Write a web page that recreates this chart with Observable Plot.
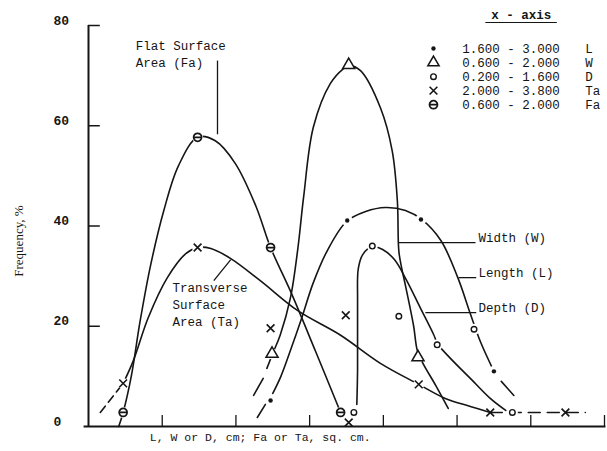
<!DOCTYPE html>
<html>
<head>
<meta charset="utf-8">
<script src="https://cdn.jsdelivr.net/npm/d3@7"></script>
<script src="https://cdn.jsdelivr.net/npm/@observablehq/plot@0.6"></script>
<style>
  html, body { margin: 0; padding: 0; background: #fff; }
</style>
</head>
<body>
<div id="chart"></div>
<script>
// ---- axes ----
const xTicks = [1, 2, 3, 4, 5, 6, 7];
const yTicks = [0, 20, 40, 60, 80];
const xLabel = "L, W or D, cm; Fa or Ta, sq. cm.";
const yLabel = "Frequency, %";

// ---- plotted points (x in axis units, frequency %) ----
const lPoints  = [[2.47, 5.2], [3.51, 41.1], [4.51, 41.3], [5.50, 11.0]];
const wPoints  = [[2.49, 14.5], [3.53, 72.1], [4.47, 13.8]];
const dPoints  = [[3.60, 2.8], [3.85, 36.0], [4.21, 22.0], [4.73, 16.3], [5.23, 19.4], [5.75, 2.8]];
const taPoints = [[0.47, 8.6], [1.48, 35.7], [2.47, 19.6], [3.49, 22.2], [4.48, 8.4], [5.45, 2.8], [6.47, 2.8], [3.53, 0.8]];
const faPoints = [[0.47, 2.8], [1.48, 57.7], [2.47, 35.7], [3.42, 2.8]];

// ---- hand-drawn smooth curves ----
const faCurve = [[0.41, 0], [0.47, 2.8], [0.58, 10], [0.70, 21], [0.84, 32], [1.02, 43], [1.22, 52],
  [1.48, 57.7], [1.72, 57], [1.99, 52.5], [2.27, 44], [2.47, 35.7], [2.74, 27], [3.08, 15], [3.42, 2.8]];
const taCurve = [[0.47, 8.6], [0.61, 13.2], [0.81, 21.7], [1.07, 29.7], [1.32, 34.5], [1.48, 35.7],
  [1.66, 35.5], [1.93, 33.5], [2.33, 29.1], [2.84, 23.1], [3.42, 18.2], [3.96, 12.6], [4.48, 8.4],
  [4.84, 5.6], [5.18, 4.0], [5.45, 2.8]];
const taDashLow = [[0.16, 2.8], [0.47, 8.6]];
const taTail = [[5.45, 2.8], [6.74, 2.8]];
const wCurve = [[2.42, 11.6], [2.50, 14.6], [2.60, 18.2], [2.74, 25.7], [2.84, 35.5], [2.92, 46],
  [3.05, 59.7], [3.28, 68.4], [3.46, 71.4], [3.53, 72], [3.69, 71], [3.96, 63.6], [4.12, 55],
  [4.19, 45], [4.21, 35], [4.25, 31.5], [4.30, 28.1], [4.41, 20.1], [4.46, 15.2], [4.53, 12.8],
  [4.71, 8.2], [4.88, 3.6]];
const wDashLow = [[2.24, 6.2], [2.37, 9.6]];
const lCurve = [[2.50, 6.6], [2.61, 10.0], [2.74, 15.2], [2.88, 21.1], [3.05, 28.7], [3.24, 35.1],
  [3.50, 40.9], [3.76, 42.9], [4.03, 43.7], [4.30, 43.1], [4.52, 41.3], [4.78, 37.1], [5.01, 29.7],
  [5.18, 22.5], [5.32, 16.8], [5.50, 11.0]];
const lDashLow = [[2.29, 1.8], [2.40, 4.4]];
const lDashHigh = [[5.60, 9.0], [5.77, 6.2]];
const dCurve = [[3.64, 4.4], [3.65, 11.2], [3.65, 25.1], [3.66, 31.5], [3.72, 34.3], [3.85, 35.9],
  [3.99, 35.3], [4.15, 33.3], [4.31, 29.3], [4.50, 23.7], [4.68, 18.4], [4.74, 16.4], [4.91, 13.6],
  [5.18, 9.6], [5.45, 5.6], [5.66, 3.2]];

// ---- annotations ----
const notes = [
  {text: "Flat Surface", x: 0.64, y: 76.0},
  {text: "Area (Fa)",    x: 0.64, y: 72.6},
  {text: "Transverse",   x: 1.14, y: 27.7},
  {text: "Surface",      x: 1.14, y: 24.3},
  {text: "Area (Ta)",    x: 1.14, y: 20.9},
  {text: "Width (W)",    x: 5.29, y: 37.7},
  {text: "Length (L)",   x: 5.29, y: 30.7},
  {text: "Depth (D)",    x: 5.29, y: 23.7}
];
const leaders = [
  {x1: 1.75, y1: 73.0, x2: 1.75, y2: 58.3},
  {x1: 1.70, y1: 29.1, x2: 1.93, y2: 33.3},
  {x1: 4.21, y1: 36.7, x2: 5.25, y2: 36.7},
  {x1: 5.02, y1: 29.7, x2: 5.26, y2: 29.7},
  {x1: 4.57, y1: 22.7, x2: 5.26, y2: 22.7}
];

// ---- legend ----
const legendTitle = "x - axis";
const legendKeys = ["L", "W", "D", "Ta", "Fa"];
const legendRanges = ["1.600 - 3.000", "0.600 - 2.000", "0.200 - 1.600", "2.000 - 3.800", "0.600 - 2.000"];
const legendRowY = [75.4, 72.6, 69.8, 67.0, 64.2];
const legendCol = {marker: 4.68, range: 5.07, key: 6.74, title: 5.87, ul1: 5.39, ul2: 6.36, titleY: 82.0, ulY: 80.6};

// ---- styling ----
const ink = "#151515";
const mono = "Liberation Mono, DejaVu Sans Mono, monospace";
const thetaSymbol = {
  draw(ctx, size) {
    const r = Math.sqrt(size / Math.PI);
    ctx.moveTo(r, 0);
    ctx.arc(0, 0, r, 0, 2 * Math.PI);
    ctx.moveTo(-r, 0);
    ctx.lineTo(r, 0);
  }
};
const X = d => d[0], Y = d => d[1];
const lineOpts = {x: X, y: Y, stroke: ink, strokeWidth: 1.6, curve: "catmull-rom"};
const dashOpts = {x: X, y: Y, stroke: ink, strokeWidth: 1.6};
const allPts = [...lPoints, ...wPoints, ...dPoints, ...faPoints, ...taPoints.slice(0, 2), taPoints[4]];

const marks = [
  // axes
  Plot.ruleX([0], {y1: 0, y2: 80, stroke: ink, strokeWidth: 2}),
  Plot.ruleY([0], {x1: -0.06, x2: 7.02, stroke: ink, strokeWidth: 2}),
  Plot.ruleY(yTicks.slice(1), {x1: 0, x2: 0.16, stroke: ink, strokeWidth: 1.5}),
  Plot.ruleX(xTicks, {y1: 0, y2: 2.2, stroke: ink, strokeWidth: 1.3}),
  Plot.axisY(yTicks, {tickSize: 0, tickPadding: 0, textAnchor: "start", dx: -35, dy: -5,
    fontSize: 13, fontWeight: 600, fontFamily: mono, fill: ink, tickFormat: d => String(d)}),
  Plot.text([xLabel], {x: 2.33, y: -2.1, text: d => d, fontSize: 11.5, fontFamily: mono, fill: ink}),
  Plot.text([yLabel], {x: -0.95, y: 37, text: d => d, rotate: -90, fontSize: 13,
    fontFamily: "Liberation Serif, DejaVu Serif, serif", fill: ink, letterSpacing: "2.6px"}),

  // curves
  Plot.line(faCurve, lineOpts),
  Plot.line(taCurve, lineOpts),
  Plot.line(wCurve, lineOpts),
  Plot.line(lCurve, lineOpts),
  Plot.line(dCurve, lineOpts),
  Plot.line(taDashLow, {...dashOpts, strokeDasharray: "8,5"}),
  Plot.line(taTail, {...dashOpts, strokeDasharray: "12,7"}),
  Plot.line(wDashLow, dashOpts),
  Plot.line(lDashLow, dashOpts),
  Plot.line(lDashHigh, dashOpts),

  // white halos make the gaps at the markers
  Plot.dot(allPts, {x: X, y: Y, r: 5.5, fill: "white", stroke: null}),

  // markers
  Plot.dot(lPoints, {x: X, y: Y, r: 2.2, fill: ink, stroke: null}),
  Plot.dot(wPoints, {x: X, y: Y, r: 4.5, symbol: "triangle", fill: "white", stroke: ink, strokeWidth: 1.5}),
  Plot.dot(dPoints, {x: X, y: Y, r: 2.8, fill: "white", stroke: ink, strokeWidth: 1.4}),
  Plot.dot(taPoints, {x: X, y: Y, r: 3.6, symbol: "times", stroke: ink, strokeWidth: 1.6}),
  Plot.dot(faPoints, {x: X, y: Y, r: 4, symbol: thetaSymbol, fill: "white", stroke: ink, strokeWidth: 1.7}),

  // annotations
  Plot.link(leaders, {x1: "x1", y1: "y1", x2: "x2", y2: "y2", stroke: ink, strokeWidth: 1.3}),
  Plot.text(notes, {x: "x", y: "y", text: "text", textAnchor: "start", fontSize: 12.5, fontFamily: mono, fill: ink}),

  // legend
  Plot.text([legendTitle], {x: legendCol.title, y: legendCol.titleY, text: d => d, fontSize: 12.5, fontFamily: mono, fill: ink, fontWeight: 600}),
  Plot.ruleY([legendCol.ulY], {x1: legendCol.ul1, x2: legendCol.ul2, stroke: ink, strokeWidth: 1.2}),
  Plot.dot([0], {x: legendCol.marker, y: legendRowY[0], r: 2.2, fill: ink, stroke: null}),
  Plot.dot([0], {x: legendCol.marker, y: legendRowY[1], r: 4.2, symbol: "triangle", fill: "white", stroke: ink, strokeWidth: 1.5}),
  Plot.dot([0], {x: legendCol.marker, y: legendRowY[2], r: 2.8, fill: "white", stroke: ink, strokeWidth: 1.4}),
  Plot.dot([0], {x: legendCol.marker, y: legendRowY[3], r: 3.6, symbol: "times", stroke: ink, strokeWidth: 1.6}),
  Plot.dot([0], {x: legendCol.marker, y: legendRowY[4], r: 4, symbol: thetaSymbol, fill: "white", stroke: ink, strokeWidth: 1.7}),
  Plot.text(legendRanges, {x: legendCol.range, y: (d, i) => legendRowY[i], text: d => d, textAnchor: "start", fontSize: 12.5, fontFamily: mono, fill: ink}),
  Plot.text(legendKeys, {x: legendCol.key, y: (d, i) => legendRowY[i], text: d => d, textAnchor: "start", fontSize: 12.5, fontFamily: mono, fill: ink})
];

const chart = Plot.plot({
  width: 607,
  height: 451,
  marginLeft: 88,
  marginRight: 3,
  marginTop: 25,
  marginBottom: 25,
  x: {domain: [0, 7], axis: null},
  y: {domain: [0, 80], axis: null},
  style: {background: "white", fontFamily: mono, overflow: "visible"},
  marks
});
document.getElementById("chart").appendChild(chart);
</script>
</body>
</html>
